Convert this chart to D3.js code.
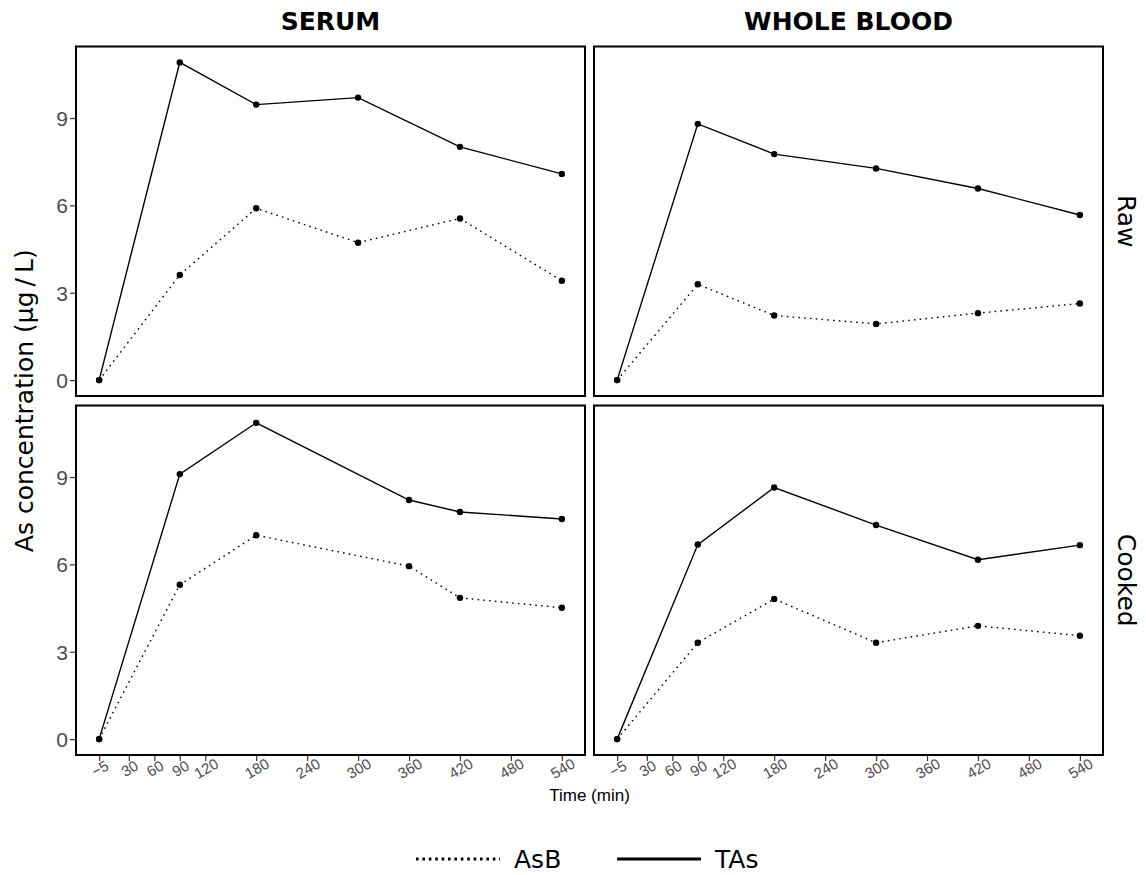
<!DOCTYPE html>
<html>
<head>
<meta charset="utf-8">
<script src="https://cdn.jsdelivr.net/npm/d3@7"></script>
<style>
  html, body { margin: 0; padding: 0; background: #fff; }
  svg { display: block; }
</style>
</head>
<body>
<svg id="chart" width="1146" height="875"></svg>
<script>
// Facet labels and axis ticks
const facetCols = ["SERUM", "WHOLE BLOOD"];
const facetRows = ["Raw", "Cooked"];
const xTicks = [-5, 30, 60, 90, 120, 180, 240, 300, 360, 420, 480, 540];
const yTicks = [0, 3, 6, 9];
const seriesNames = ["AsB", "TAs"];

// Sampling times (min) and concentrations (µg/L) for each panel
const serumRawTime = [-5, 90, 180, 300, 420, 540];
const serumRawTAs = [0, 10.91, 9.46, 9.70, 8.01, 7.08];
const serumRawAsB = [0, 3.61, 5.90, 4.72, 5.55, 3.41];

const bloodRawTime = [-5, 90, 180, 300, 420, 540];
const bloodRawTAs = [0, 8.80, 7.76, 7.27, 6.58, 5.67];
const bloodRawAsB = [0, 3.29, 2.22, 1.93, 2.30, 2.63];

const serumCookedTime = [-5, 90, 180, 360, 420, 540];
const serumCookedTAs = [0, 9.10, 10.86, 8.21, 7.80, 7.56];
const serumCookedAsB = [0, 5.30, 7.00, 5.94, 4.85, 4.51];

const bloodCookedTime = [-5, 90, 180, 300, 420, 540];
const bloodCookedTAs = [0, 6.68, 8.64, 7.35, 6.16, 6.66];
const bloodCookedAsB = [0, 3.31, 4.81, 3.31, 3.89, 3.55];

const panels = [
  { row: 0, col: 0, time: serumRawTime, TAs: serumRawTAs, AsB: serumRawAsB },
  { row: 0, col: 1, time: bloodRawTime, TAs: bloodRawTAs, AsB: bloodRawAsB },
  { row: 1, col: 0, time: serumCookedTime, TAs: serumCookedTAs, AsB: serumCookedAsB },
  { row: 1, col: 1, time: bloodCookedTime, TAs: bloodCookedTAs, AsB: bloodCookedAsB }
];

// Layout
const colX = [76, 594];
const rowY = [46.5, 405.5];
const panelW = 509;
const panelH = 349.5;

const svg = d3.select("#chart");

// Shared scales with 5% padding on both ends
const allT = panels.flatMap(p => p.time);
const allV = panels.flatMap(p => p.TAs.concat(p.AsB));
const tMin = d3.min(allT), tMax = d3.max(allT);
const vMin = d3.min(allV), vMax = d3.max(allV);
const tPad = (tMax - tMin) * 0.05, vPad = (vMax - vMin) * 0.05;

const x = d3.scaleLinear().domain([tMin - tPad, tMax + tPad]).range([0, panelW]);
const y = d3.scaleLinear().domain([vMin - vPad, vMax + vPad]).range([panelH, 0]);

const styles = {
  AsB: { dash: "1.6,4.2" },
  TAs: { dash: null }
};

const line = d3.line().x(d => x(d.t)).y(d => y(d.v));

panels.forEach(p => {
  const g = svg.append("g").attr("transform", `translate(${colX[p.col]},${rowY[p.row]})`);

  ["AsB", "TAs"].forEach(s => {
    const pts = p.time.map((t, i) => ({ t, v: p[s][i] }));
    g.append("path")
      .datum(pts)
      .attr("d", line)
      .attr("fill", "none")
      .attr("stroke", "#000")
      .attr("stroke-width", 1.4)
      .attr("stroke-dasharray", styles[s].dash);
    g.selectAll(null)
      .data(pts)
      .enter()
      .append("circle")
      .attr("cx", d => x(d.t))
      .attr("cy", d => y(d.v))
      .attr("r", 3.2)
      .attr("fill", "#000");
  });

  // Panel border
  g.append("rect")
    .attr("x", 0).attr("y", 0)
    .attr("width", panelW).attr("height", panelH)
    .attr("fill", "none")
    .attr("stroke", "#000")
    .attr("stroke-width", 2);

  // Y axis on left column
  if (p.col === 0) {
    const ya = g.append("g").call(d3.axisLeft(y).tickValues(yTicks).tickSize(5).tickPadding(3).tickFormat(d3.format("d")));
    ya.select(".domain").remove();
    ya.selectAll(".tick line").attr("stroke", "#333").attr("stroke-width", 1.2).attr("transform", "translate(-1,0)");
    ya.selectAll(".tick text")
      .attr("fill", "#4d4d4d")
      .style("font-family", "'Liberation Sans', Arial, sans-serif")
      .style("font-size", "21px")
      .attr("dy", "0.36em");
  }

  // X axis on bottom row
  if (p.row === 1) {
    const xa = g.append("g").attr("transform", `translate(0,${panelH})`)
      .call(d3.axisBottom(x).tickValues(xTicks).tickSize(5).tickPadding(0).tickFormat(d3.format("d")));
    xa.select(".domain").remove();
    xa.selectAll(".tick line").attr("stroke", "#333").attr("stroke-width", 1.2).attr("transform", "translate(0,1)");
    xa.selectAll(".tick text")
      .attr("fill", "#4d4d4d")
      .attr("y", 0).attr("dy", 0)
      .attr("text-anchor", "middle")
      .attr("transform", "translate(3,18) rotate(-30)")
      .style("font-family", "'Liberation Sans', Arial, sans-serif")
      .style("font-size", "15px");
  }
});

// Column strip titles
facetCols.forEach((t, i) => {
  svg.append("text")
    .attr("x", colX[i] + panelW / 2)
    .attr("y", 30)
    .attr("text-anchor", "middle")
    .style("font-family", "'DejaVu Sans', sans-serif")
    .style("font-weight", "bold")
    .style("font-size", "25px")
    .attr("fill", "#000")
    .text(t);
});

// Row strip titles
facetRows.forEach((t, i) => {
  const cy = rowY[i] + panelH / 2;
  svg.append("text")
    .attr("transform", `translate(1118,${cy}) rotate(90)`)
    .attr("text-anchor", "middle")
    .style("font-family", "'DejaVu Sans', sans-serif")
    .style("font-size", "25px")
    .attr("fill", "#000")
    .text(t);
});

// Axis titles
svg.append("text")
  .attr("transform", `translate(33,${(rowY[0] + rowY[1] + panelH) / 2}) rotate(-90)`)
  .attr("text-anchor", "middle")
  .style("font-family", "'DejaVu Sans', sans-serif")
  .style("font-size", "25px")
  .attr("fill", "#000")
  .text("As concentration (\u03bcg\u2009/\u2009L)");

svg.append("text")
  .attr("x", (colX[0] + colX[1] + panelW) / 2)
  .attr("y", 801)
  .attr("text-anchor", "middle")
  .style("font-family", "'Liberation Sans', Arial, sans-serif")
  .style("font-size", "17px")
  .attr("fill", "#000")
  .text("Time (min)");

// Legend
const legendItems = [
  { name: seriesNames[0], x: 416, dash: "2.6,3.8" },
  { name: seriesNames[1], x: 617, dash: null }
];
legendItems.forEach(it => {
  svg.append("line")
    .attr("x1", it.x).attr("x2", it.x + 84)
    .attr("y1", 859).attr("y2", 859)
    .attr("stroke", "#000")
    .attr("stroke-width", 3)
    .attr("stroke-dasharray", it.dash);
  svg.append("text")
    .attr("x", it.x + 98)
    .attr("y", 868)
    .style("font-family", "'DejaVu Sans', sans-serif")
    .style("font-size", "25px")
    .attr("fill", "#000")
    .text(it.name);
});
</script>
</body>
</html>
